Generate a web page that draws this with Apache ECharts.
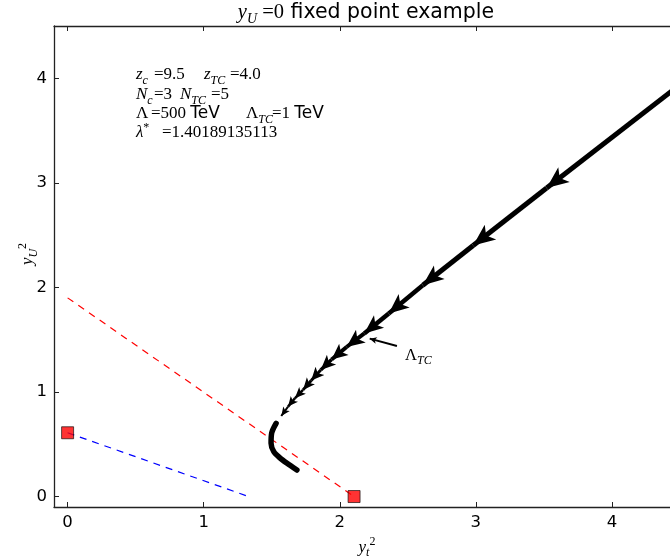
<!DOCTYPE html>
<html>
<head>
<meta charset="utf-8">
<script src="https://cdn.jsdelivr.net/npm/echarts@6/dist/echarts.min.js"></script>
<style>
  html, body { margin: 0; padding: 0; background: #fff; }
  #chart { width: 670px; height: 559px; }
</style>
</head>
<body>
<div id="chart"></div>
<script>
// RG trajectory in the (y_t^2, y_U^2) plane, running toward the IR.
// Arrowed part of the flow (each point is the tip of one arrow segment).
const flowArrowPoints = [
  [4.50, 3.94], [3.52, 2.95], [2.98, 2.40], [2.61, 2.02], [2.36, 1.75],
  [2.18, 1.56], [2.05, 1.43], [1.94, 1.31], [1.86, 1.21], [1.79, 1.11],
  [1.73, 1.02], [1.67, 0.94], [1.62, 0.86], [1.57, 0.77]
];
// Flow below Lambda_TC, drawn as a plain curve
const flowTail = [
  [1.532, 0.70], [1.50, 0.61], [1.495, 0.51], [1.515, 0.43], [1.56, 0.37], [1.61, 0.32], [1.685, 0.253]
];
// Fixed points
const fixedPoints = [[0, 0.61], [2.105, 0]];
// Boundary lines
const redBoundary = [[0, 1.9], [2.105, 0]];
const blueBoundary = [[0, 0.61], [1.33, 0]];
// Pointer to the Lambda_TC scale on the trajectory
const lambdaTCPointer = [[2.42, 1.44], [2.22, 1.51]];

const xTicks = [0, 1, 2, 3, 4];
const xTickLabels = ['0', '1', '2', '3', '4'];
const yTicks = [0, 1, 2, 3, 4];
const yTickLabels = ['0', '1', '2', '3', '4'];

// Arrow head sizes [width, length] and shaft widths along the flow
const headSizes = [[14, 22], [14, 22], [13, 21], [13, 20], [12, 19], [12, 18], [11, 16],
                   [10, 15], [9, 13], [8, 12], [7, 11], [7, 10], [6, 9]];
const shaftWidths = [5, 5, 5, 4.5, 4.5, 4, 4, 3.5, 3, 3, 2.5, 2.5, 2];

const SERIF = '"Liberation Serif", "DejaVu Serif", serif';
const SANS = '"DejaVu Sans", sans-serif';

function mathRich(size) {
  const sub = Math.round(size * 0.7);
  return {
    m: { fontFamily: SERIF, fontStyle: 'italic', fontSize: size, lineHeight: size + 6, verticalAlign: 'middle', color: '#000' },
    r: { fontFamily: SERIF, fontSize: size, lineHeight: size + 6, verticalAlign: 'middle', color: '#000' },
    s: { fontFamily: SERIF, fontStyle: 'italic', fontSize: sub, lineHeight: sub + 2, verticalAlign: 'bottom', color: '#000' },
    p: { fontFamily: SERIF, fontSize: sub, lineHeight: sub + 2, verticalAlign: 'top', color: '#000' },
    t: { fontFamily: SANS, fontSize: size, lineHeight: size + 6, verticalAlign: 'middle', color: '#000' }
  };
}

const flowSegments = [];
for (let i = 0; i < flowArrowPoints.length - 1; i++) {
  flowSegments.push({
    coords: [flowArrowPoints[i], flowArrowPoints[i + 1]],
    symbol: ['none', 'arrow'],
    symbolSize: [[0, 0], headSizes[i]],
    lineStyle: { width: shaftWidths[i] }
  });
}

const chart = echarts.init(document.getElementById('chart'), null, { renderer: 'canvas' });

const tickLabelStyle = { color: '#000', fontFamily: SANS, fontSize: 16.5 };

// Parameter block, one entry per text run
const textBlock = [
  { x: 136, y: 75, text: '{m|z}{s|c}' },
  { x: 154, y: 75, text: '{r|=9.5}' },
  { x: 204, y: 75, text: '{m|z}{s|TC}' },
  { x: 230, y: 75, text: '{r|=4.0}' },
  { x: 136, y: 95, text: '{m|N}{s|c}' },
  { x: 154, y: 95, text: '{r|=3}' },
  { x: 180, y: 95, text: '{m|N}{s|TC}' },
  { x: 211, y: 95, text: '{r|=5}' },
  { x: 136, y: 114, text: '{r|Λ}' },
  { x: 151, y: 114, text: '{r|=500 }{t|TeV}' },
  { x: 246, y: 114, text: '{r|Λ}{s|TC}' },
  { x: 272, y: 114, text: '{r|=1 }{t|TeV}' },
  { x: 136, y: 133, text: '{m|λ}{p|*}' },
  { x: 162, y: 133, text: '{r|=1.40189135113}' }
];

const option = {
  animation: false,
  backgroundColor: '#fff',
  grid: { left: 54, top: 26, width: 626, height: 481, containLabel: false, outerBoundsMode: 'none' },
  xAxis: [
    {
      type: 'value', min: -0.1, max: 4.5, position: 'bottom',
      axisLine: { show: true, onZero: false, lineStyle: { color: '#222', width: 1.3 } },
      axisTick: { show: true, inside: true, length: 5, customValues: xTicks, lineStyle: { color: '#222' } },
      axisLabel: {
        customValues: xTicks, margin: 7, ...tickLabelStyle,
        formatter: v => xTickLabels[xTicks.indexOf(v)]
      },
      splitLine: { show: false },
      name: '{m|y}{s|t}{p|2}',
      nameLocation: 'middle', nameGap: 26,
      nameTextStyle: { rich: mathRich(17) }
    },
    {
      type: 'value', min: -0.1, max: 4.5, position: 'top',
      axisLine: { show: true, onZero: false, lineStyle: { color: '#222', width: 1.3 } },
      axisTick: { show: true, inside: true, length: 5, customValues: xTicks, lineStyle: { color: '#222' } },
      axisLabel: { show: false },
      splitLine: { show: false }
    }
  ],
  yAxis: [
    {
      type: 'value', min: -0.1, max: 4.5, position: 'left',
      axisLine: { show: true, onZero: false, lineStyle: { color: '#222', width: 1.3 } },
      axisTick: { show: true, inside: true, length: 5, customValues: yTicks, lineStyle: { color: '#222' } },
      axisLabel: {
        customValues: yTicks, margin: 7, ...tickLabelStyle,
        formatter: v => yTickLabels[yTicks.indexOf(v)]
      },
      splitLine: { show: false }
    },
    {
      type: 'value', min: -0.1, max: 4.5, position: 'right',
      axisLine: { show: true, onZero: false, lineStyle: { color: '#222', width: 1.3 } },
      axisTick: { show: true, inside: true, length: 5, customValues: yTicks, lineStyle: { color: '#222' } },
      axisLabel: { show: false },
      splitLine: { show: false }
    }
  ],
  series: [
    {
      type: 'line', xAxisIndex: 0, yAxisIndex: 0, data: redBoundary, symbol: 'none',
      lineStyle: { color: '#ff0000', width: 1.2, type: [7, 6] }, z: 2
    },
    {
      type: 'line', xAxisIndex: 0, yAxisIndex: 0, data: blueBoundary, symbol: 'none',
      lineStyle: { color: '#0000ff', width: 1.2, type: [7, 6] }, z: 2
    },
    {
      type: 'lines', coordinateSystem: 'cartesian2d', xAxisIndex: 0, yAxisIndex: 0,
      data: flowSegments, lineStyle: { color: '#000', width: 5, opacity: 1, cap: 'butt' }, z: 3
    },
    {
      type: 'line', xAxisIndex: 0, yAxisIndex: 0, data: flowTail, symbol: 'none', smooth: 0.3,
      lineStyle: { color: '#000', width: 5.5, cap: 'round' }, z: 3
    },
    {
      type: 'lines', coordinateSystem: 'cartesian2d', xAxisIndex: 0, yAxisIndex: 0,
      data: [{ coords: lambdaTCPointer }],
      symbol: ['none', 'arrow'], symbolSize: [[0, 0], [5, 7]],
      lineStyle: { color: '#000', width: 2, opacity: 1 }, z: 3
    },
    {
      type: 'scatter', xAxisIndex: 0, yAxisIndex: 0, data: fixedPoints, symbol: 'rect', symbolSize: 12,
      itemStyle: { color: '#ff0000', borderColor: '#000', borderWidth: 0.8 }, z: 5
    }
  ],
  graphic: [
    {
      type: 'text', x: 366, y: 13,
      style: {
        text: '{m|y}{s|U}{r| =0}{t| fixed point example}',
        align: 'center', verticalAlign: 'middle', rich: mathRich(20.5)
      }
    },
    {
      type: 'text', x: 28, y: 254, rotation: Math.PI / 2,
      style: { text: '{m|y}{s|U}{p|2}', align: 'center', verticalAlign: 'middle', rich: mathRich(17) }
    },
    {
      type: 'text', x: 405, y: 356,
      style: { text: '{r|Λ}{s|TC}', align: 'left', verticalAlign: 'middle', rich: mathRich(16.5) }
    }
  ].concat(textBlock.map(t => ({
    type: 'text', x: t.x, y: t.y,
    style: { text: t.text, align: 'left', verticalAlign: 'middle', rich: mathRich(17) }
  })))
};

chart.setOption(option);
</script>
</body>
</html>
